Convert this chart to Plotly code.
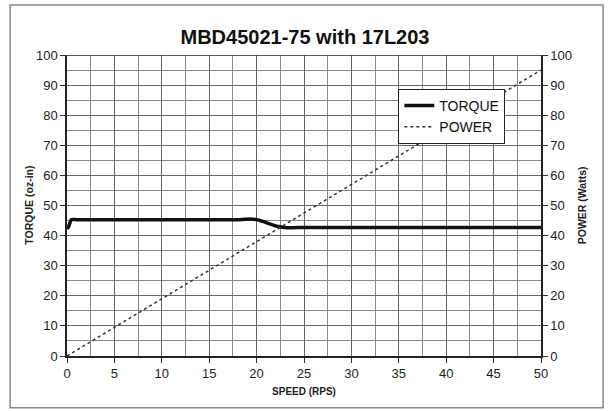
import plotly.graph_objects as go

speed_torque = [0, 0.15, 0.45, 1, 5, 10, 15, 18, 19.3, 20.3, 21.3, 22.3, 23.2, 25, 30, 40, 50]
torque = [42.3, 42.8, 45.3, 45.3, 45.3, 45.3, 45.3, 45.3, 45.5, 45.1, 44.0, 43.0, 42.6, 42.7, 42.7, 42.7, 42.7]
speed_power = [0, 10, 20, 30, 40, 50]
power = [0, 19, 38, 57, 76, 95]

title = "MBD45021-75 with 17L203"
x_title = "SPEED (RPS)"
y_title = "TORQUE (oz-in)"
y2_title = "POWER (Watts)"

FONT = "Liberation Sans, Arial"
fig = go.Figure()
fig.add_trace(go.Scatter(x=speed_torque, y=torque, mode="lines", name="TORQUE",
                         line=dict(color="#111111", width=3.5, shape="spline", smoothing=0.4)))
fig.add_trace(go.Scatter(x=speed_power, y=power, mode="lines", name="POWER", yaxis="y2",
                         line=dict(color="#333333", width=1.5, dash="dot")))

axis_font = dict(family=FONT, size=13, color="#222")
fig.update_layout(
    width=610, height=411,
    margin=dict(l=67, r=69, t=55, b=55),
    paper_bgcolor="white", plot_bgcolor="white",
    title=dict(text="<b>" + title + "</b>", x=0.5, xanchor="center", y=0.91, yanchor="middle",
               font=dict(family=FONT, size=20, color="#111")),
    font=dict(family=FONT, color="#222"),
    xaxis=dict(range=[0, 50], dtick=5, tick0=0, showgrid=True, gridcolor="#666", gridwidth=1,
               minor=dict(dtick=2.5, showgrid=True, gridcolor="#888", gridwidth=1),
               ticks="outside", ticklen=5, tickcolor="#333", tickfont=axis_font,
               showline=True, linecolor="#222", linewidth=1.5, mirror=False, zeroline=False,
               title=dict(text="<b>" + x_title + "</b>", font=dict(size=10, family=FONT, color="#222"), standoff=8)),
    yaxis=dict(range=[0, 100], dtick=10, tick0=0, showgrid=True, gridcolor="#666", gridwidth=1,
               minor=dict(dtick=5, showgrid=True, gridcolor="#888", gridwidth=1),
               ticks="outside", ticklen=5, tickcolor="#333", tickfont=axis_font,
               showline=True, linecolor="#222", linewidth=1.5, zeroline=False),
    yaxis2=dict(range=[0, 100], dtick=10, tick0=0, overlaying="y", side="right", showgrid=False,
                ticks="outside", ticklen=5, tickcolor="#333", tickfont=axis_font,
                showline=True, linecolor="#222", linewidth=1.5, zeroline=False),
    legend=dict(x=0.699, y=0.887, xanchor="left", yanchor="top", bgcolor="white",
                bordercolor="#222", borderwidth=1, font=dict(size=14, family=FONT, color="#111"),
                tracegroupgap=0, itemwidth=30),
    showlegend=True,
)
fig.add_annotation(text="<b>" + y_title + "</b>", xref="paper", yref="paper", x=-0.082, y=0.5,
                   textangle=-90, showarrow=False, xanchor="center", yanchor="middle",
                   font=dict(size=10.5, family=FONT, color="#222"))
fig.add_annotation(text="<b>" + y2_title + "</b>", xref="paper", yref="paper", x=1.086, y=0.5,
                   textangle=-90, showarrow=False, xanchor="center", yanchor="middle",
                   font=dict(size=10.5, family=FONT, color="#222"))
fig.add_shape(type="line", xref="x", yref="y", x0=0, x1=50, y0=100, y1=100,
              line=dict(color="#222", width=1.5))
fig.add_shape(type="rect", xref="paper", yref="paper", x0=-0.12, x1=1.131, y0=-0.172, y1=1.166,
              line=dict(color="#888", width=1.5), layer="below")
fig.write_html("out.html")
